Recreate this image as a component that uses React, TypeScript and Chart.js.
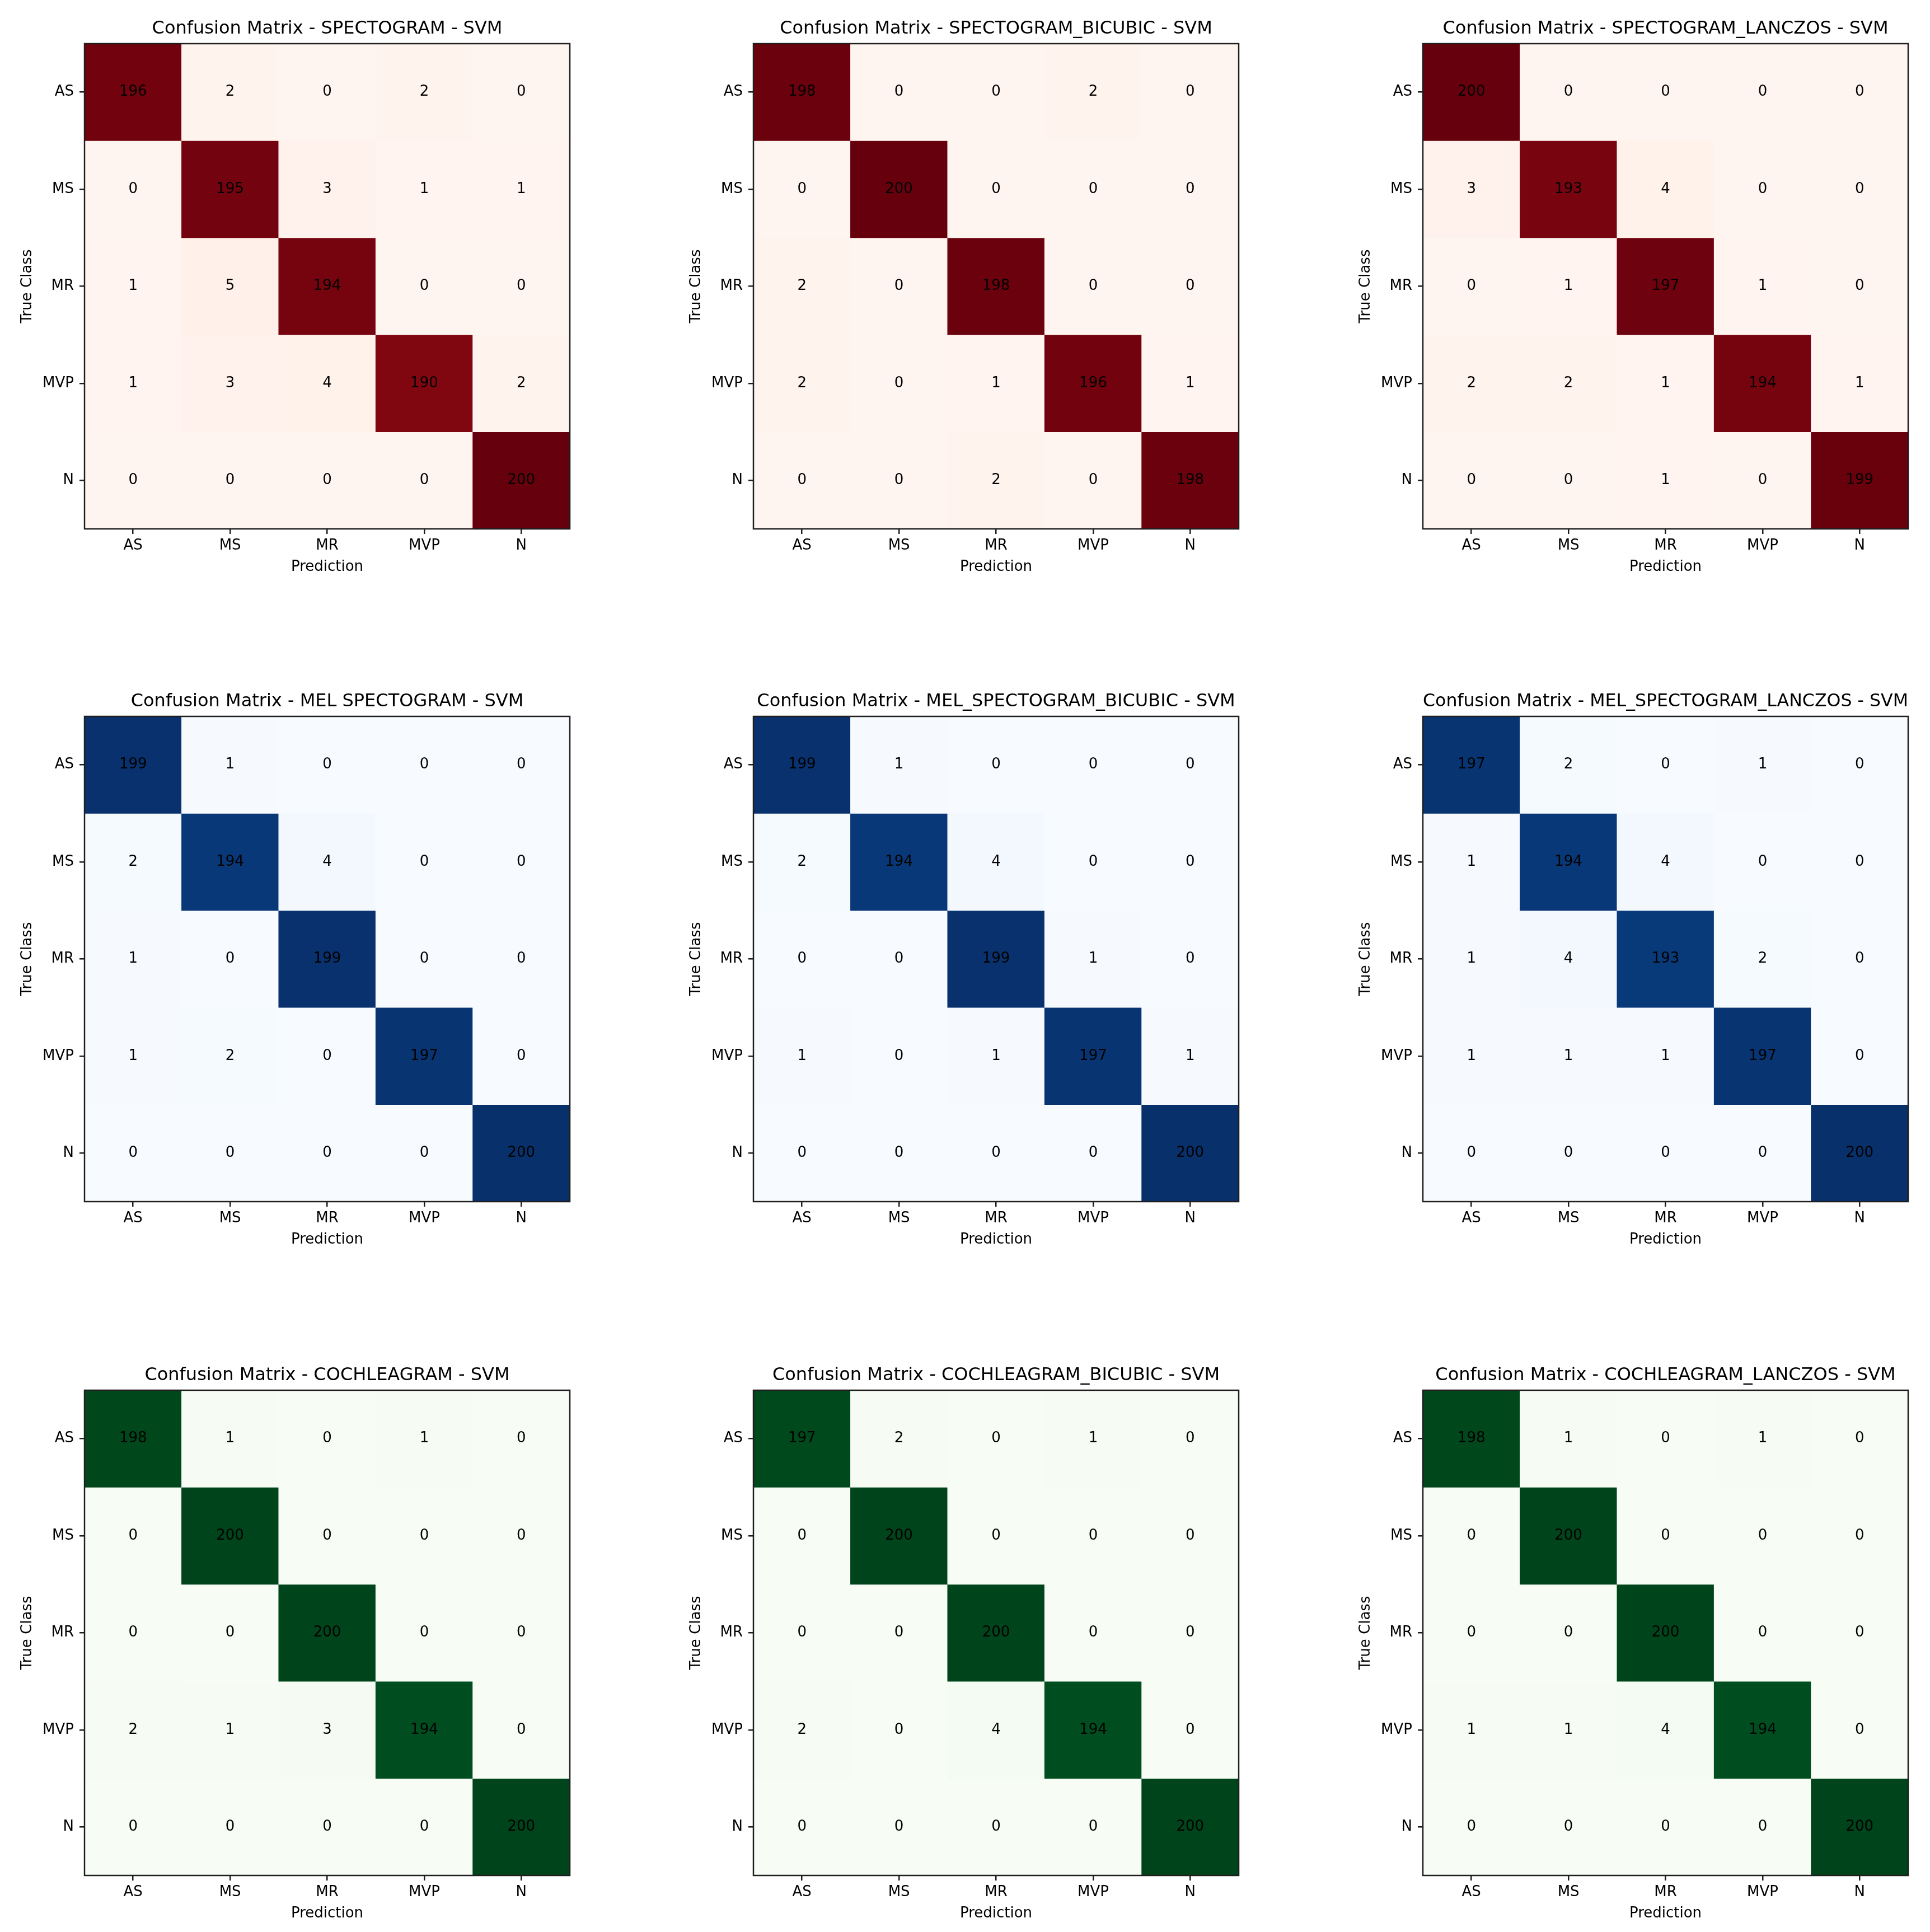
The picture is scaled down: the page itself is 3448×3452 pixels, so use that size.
import React, { useEffect, useRef } from "react";
import { Chart, registerables } from "chart.js";

Chart.register(...registerables);
Chart.defaults.font.family = '"DejaVu Sans", Verdana, sans-serif';

// ---------------- data ----------------
const classLabels = ["AS", "MS", "MR", "MVP", "N"];
const xAxisTitle = "Prediction";
const yAxisTitle = "True Class";

const cmSpectogram = [
  [196, 2, 0, 2, 0],
  [0, 195, 3, 1, 1],
  [1, 5, 194, 0, 0],
  [1, 3, 4, 190, 2],
  [0, 0, 0, 0, 200],
];
const cmSpectogramBicubic = [
  [198, 0, 0, 2, 0],
  [0, 200, 0, 0, 0],
  [2, 0, 198, 0, 0],
  [2, 0, 1, 196, 1],
  [0, 0, 2, 0, 198],
];
const cmSpectogramLanczos = [
  [200, 0, 0, 0, 0],
  [3, 193, 4, 0, 0],
  [0, 1, 197, 1, 0],
  [2, 2, 1, 194, 1],
  [0, 0, 1, 0, 199],
];
const cmMelSpectogram = [
  [199, 1, 0, 0, 0],
  [2, 194, 4, 0, 0],
  [1, 0, 199, 0, 0],
  [1, 2, 0, 197, 0],
  [0, 0, 0, 0, 200],
];
const cmMelSpectogramBicubic = [
  [199, 1, 0, 0, 0],
  [2, 194, 4, 0, 0],
  [0, 0, 199, 1, 0],
  [1, 0, 1, 197, 1],
  [0, 0, 0, 0, 200],
];
const cmMelSpectogramLanczos = [
  [197, 2, 0, 1, 0],
  [1, 194, 4, 0, 0],
  [1, 4, 193, 2, 0],
  [1, 1, 1, 197, 0],
  [0, 0, 0, 0, 200],
];
const cmCochleagram = [
  [198, 1, 0, 1, 0],
  [0, 200, 0, 0, 0],
  [0, 0, 200, 0, 0],
  [2, 1, 3, 194, 0],
  [0, 0, 0, 0, 200],
];
const cmCochleagramBicubic = [
  [197, 2, 0, 1, 0],
  [0, 200, 0, 0, 0],
  [0, 0, 200, 0, 0],
  [2, 0, 4, 194, 0],
  [0, 0, 0, 0, 200],
];
const cmCochleagramLanczos = [
  [198, 1, 0, 1, 0],
  [0, 200, 0, 0, 0],
  [0, 0, 200, 0, 0],
  [1, 1, 4, 194, 0],
  [0, 0, 0, 0, 200],
];

const chartTitles = [
  "Confusion Matrix - SPECTOGRAM - SVM",
  "Confusion Matrix - SPECTOGRAM_BICUBIC - SVM",
  "Confusion Matrix - SPECTOGRAM_LANCZOS - SVM",
  "Confusion Matrix - MEL SPECTOGRAM - SVM",
  "Confusion Matrix - MEL_SPECTOGRAM_BICUBIC - SVM",
  "Confusion Matrix - MEL_SPECTOGRAM_LANCZOS - SVM",
  "Confusion Matrix - COCHLEAGRAM - SVM",
  "Confusion Matrix - COCHLEAGRAM_BICUBIC - SVM",
  "Confusion Matrix - COCHLEAGRAM_LANCZOS - SVM",
];

const matrices = [
  cmSpectogram,
  cmSpectogramBicubic,
  cmSpectogramLanczos,
  cmMelSpectogram,
  cmMelSpectogramBicubic,
  cmMelSpectogramLanczos,
  cmCochleagram,
  cmCochleagramBicubic,
  cmCochleagramLanczos,
];

// ---------------- styles ----------------
const REDS = ["#fff5f0", "#fee0d2", "#fcbba1", "#fc9272", "#fb6a4a", "#ef3b2c", "#cb181d", "#a50f15", "#67000d"];
const BLUES = ["#f7fbff", "#deebf7", "#c6dbef", "#9ecae1", "#6baed6", "#4292c6", "#2171b5", "#08519c", "#08306b"];
const GREENS = ["#f7fcf5", "#e5f5e0", "#c7e9c0", "#a1d99b", "#74c476", "#41ab5d", "#238b45", "#006d2c", "#00441b"];
const rowCmaps = [REDS, BLUES, GREENS];

const PLOT = 867;
const LM = 140;
const TM = 78;
const RM = 20;
const BM = 100;
const colLefts = [151, 1346, 2542];
const rowTops = [78, 1280, 2484];
const FONT = '"DejaVu Sans", Verdana, sans-serif';
const AXIS_COLOR = "#1e1e1e";

function hexToRgb(h: string) {
  const n = parseInt(h.slice(1), 16);
  return [(n >> 16) & 255, (n >> 8) & 255, n & 255];
}

function cmapColor(stops: string[], t: number) {
  const tt = Math.max(0, Math.min(1, t));
  const n = stops.length - 1;
  const pos = tt * n;
  const i = Math.min(Math.floor(pos), n - 1);
  const f = pos - i;
  const a = hexToRgb(stops[i]);
  const b = hexToRgb(stops[i + 1]);
  const c = a.map((v, k) => Math.round(v + (b[k] - v) * f));
  return `rgb(${c[0]},${c[1]},${c[2]})`;
}

function ConfusionChart(props: { matrix: number[][]; title: string; stops: string[]; left: number; top: number }) {
  const { matrix, title, stops, left, top } = props;
  const ref = useRef<HTMLCanvasElement | null>(null);

  useEffect(() => {
    if (!ref.current) return;
    const flat = matrix.flat();
    const vmin = Math.min(...flat);
    const vmax = Math.max(...flat);

    const datasets = matrix.map((row, r) => ({
      label: classLabels[r],
      data: row.map(() => [r, r + 1]),
      backgroundColor: row.map((v) => cmapColor(stops, (v - vmin) / (vmax - vmin || 1))),
      borderWidth: 0,
      grouped: false,
      barPercentage: 1,
      categoryPercentage: 1,
    }));

    const cellPlugin = {
      id: "cellText",
      afterDatasetsDraw(chart: any) {
        const { ctx, scales } = chart;
        const xs = scales.x;
        const ys = scales.y;
        ctx.save();
        ctx.fillStyle = "#000";
        ctx.font = `26px ${FONT}`;
        ctx.textAlign = "center";
        ctx.textBaseline = "middle";
        matrix.forEach((row, r) => {
          row.forEach((v, c) => {
            ctx.fillText(String(v), xs.getPixelForValue(c), ys.getPixelForValue(r + 0.5));
          });
        });
        ctx.restore();
      },
      afterDraw(chart: any) {
        const { ctx, chartArea } = chart;
        ctx.save();
        ctx.strokeStyle = AXIS_COLOR;
        ctx.lineWidth = 2.5;
        ctx.strokeRect(chartArea.left, chartArea.top, chartArea.right - chartArea.left, chartArea.bottom - chartArea.top);
        ctx.restore();
      },
    };

    const chart = new Chart(ref.current, {
      type: "bar",
      data: { labels: classLabels, datasets: datasets as any },
      options: {
        animation: false,
        responsive: false,
        devicePixelRatio: 1,
        layout: { padding: { left: 0, top: 0, right: RM, bottom: 0 } },
        plugins: {
          legend: { display: false },
          tooltip: { enabled: false },
          title: {
            display: true,
            text: title,
            fullSize: false,
            color: "#000",
            font: { family: FONT, size: 32, weight: "normal", lineHeight: 1.2 },
            padding: { top: 32.8, bottom: 6.8 },
          },
        },
        scales: {
          x: {
            type: "category",
            offset: true,
            afterFit: (scale: any) => {
              scale.height = BM;
            },
            grid: {
              display: true,
              drawOnChartArea: false,
              drawTicks: true,
              tickLength: 9,
              offset: false,
              color: AXIS_COLOR,
              lineWidth: 2.5,
            },
            border: { display: false },
            ticks: {
              autoSkip: false,
              maxRotation: 0,
              minRotation: 0,
              padding: 6,
              color: "#000",
              font: { family: FONT, size: 26, lineHeight: 1.2 },
            },
            title: {
              display: true,
              text: xAxisTitle,
              color: "#000",
              font: { family: FONT, size: 26, lineHeight: 1.2 },
              padding: { top: 0, bottom: 16.5 },
            },
          },
          y: {
            type: "linear",
            min: 0,
            max: classLabels.length,
            reverse: true,
            afterBuildTicks: (scale: any) => {
              scale.ticks = classLabels.map((_, i) => ({ value: i + 0.5 }));
            },
            afterFit: (scale: any) => {
              scale.width = LM;
            },
            grid: {
              display: true,
              drawOnChartArea: false,
              drawTicks: true,
              tickLength: 9,
              color: AXIS_COLOR,
              lineWidth: 2.5,
            },
            border: { display: false },
            ticks: {
              autoSkip: false,
              padding: 10,
              color: "#000",
              font: { family: FONT, size: 26, lineHeight: 1.2 },
              callback: (_v: any, i: number) => classLabels[i],
            },
            title: {
              display: true,
              text: yAxisTitle,
              color: "#000",
              font: { family: FONT, size: 26, lineHeight: 1.2 },
              padding: { top: 23, bottom: 0 },
            },
          },
        },
      } as any,
      plugins: [cellPlugin],
    });

    return () => chart.destroy();
  }, [matrix, title, stops]);

  const w = LM + PLOT + RM;
  const h = TM + PLOT + BM;
  return (
    <canvas
      ref={ref}
      width={w}
      height={h}
      style={{ position: "absolute", left: left - LM, top: top - TM, width: w, height: h }}
    />
  );
}

export default function App() {
  return (
    <div
      style={{
        position: "absolute",
        left: 0,
        top: 0,
        width: 3448,
        height: 3452,
        background: "#ffffff",
        overflow: "hidden",
      }}
    >
      {matrices.map((m, k) => {
        const r = Math.floor(k / 3);
        const c = k % 3;
        return (
          <ConfusionChart
            key={k}
            matrix={m}
            title={chartTitles[k]}
            stops={rowCmaps[r]}
            left={colLefts[c]}
            top={rowTops[r]}
          />
        );
      })}
    </div>
  );
}
